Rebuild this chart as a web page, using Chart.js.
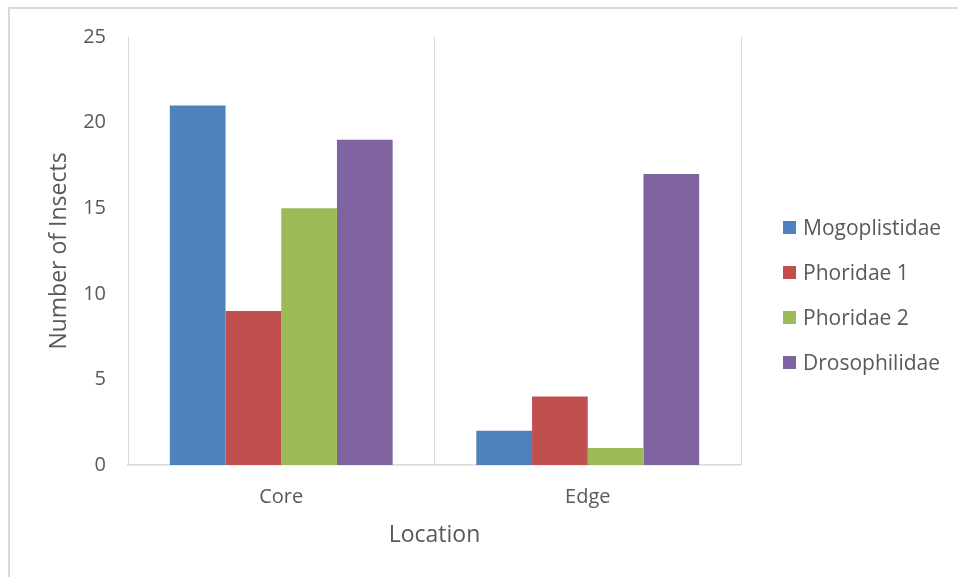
<!DOCTYPE html>
<html>
<head>
<meta charset="utf-8">
<script src="https://cdn.jsdelivr.net/npm/chart.js@4.4.1/dist/chart.umd.min.js"></script>
<style>
  html, body { margin: 0; padding: 0; background: #ffffff; }
  #wrap { position: relative; width: 958px; height: 577px; overflow: hidden; }
  #frame {
    position: absolute; left: 8px; top: 7px; width: 1000px; height: 620px;
    border-left: 2px solid #d9d9d9; border-top: 2px solid #d9d9d9;
  }
  #chart { position: absolute; left: 0; top: 0; }
  #legend {
    position: absolute; left: 783px; top: 0;
    font-family: "Open Sans", sans-serif; font-size: 21px; color: #595959;
  }
  .item { position: absolute; left: 0; height: 28px; display: flex; align-items: center; white-space: nowrap; }
  .swatch { width: 13px; height: 13px; margin-right: 7px; flex: none; }
</style>
</head>
<body>
<div id="wrap">
  <div id="frame"></div>
  <canvas id="chart" width="958" height="577"></canvas>
  <div id="legend"></div>
</div>
<script>
// Insect counts per family at each sampling location
const locations = ["Core", "Edge"];
const families = ["Mogoplistidae", "Phoridae 1", "Phoridae 2", "Drosophilidae"];
const mogoplistidae = [21, 2];
const phoridae1 = [9, 4];
const phoridae2 = [15, 1];
const drosophilidae = [19, 17];
const familyColors = ["#4F81BD", "#C0504D", "#9BBB59", "#8064A2"];

const seriesValues = [mogoplistidae, phoridae1, phoridae2, drosophilidae];
const textColor = "#595959";
const lineColor = "#d9d9d9";
const fontFamily = '"Open Sans", sans-serif';

const datasets = families.map((name, i) => ({
  label: name,
  data: seriesValues[i],
  backgroundColor: familyColors[i],
  borderWidth: 0,
  categoryPercentage: 0.727,
  barPercentage: 1.0
}));

const chart = new Chart(document.getElementById("chart"), {
  type: "bar",
  data: { labels: locations, datasets },
  options: {
    responsive: false,
    animation: false,
    devicePixelRatio: 1,
    layout: { padding: { left: 0, right: 217, top: 37, bottom: 0 } },
    plugins: {
      legend: { display: false },
      tooltip: { enabled: false }
    },
    scales: {
      x: {
        grid: { display: true, offset: true, color: lineColor, lineWidth: 1, drawTicks: false },
        border: { display: true, color: lineColor, width: 1.5 },
        ticks: { color: textColor, font: { family: fontFamily, size: 20 }, padding: 20 },
        title: {
          display: true, text: "Location", color: textColor,
          font: { family: fontFamily, size: 23 }, padding: { top: 0, bottom: 28 }
        },
        afterFit: (scale) => { scale.height = 112; }
      },
      y: {
        min: 0, max: 25,
        grid: { display: false, drawTicks: false },
        border: { display: false },
        ticks: { stepSize: 5, color: textColor, font: { family: fontFamily, size: 20 }, padding: 22 },
        title: {
          display: true, text: "Number of Insects", color: textColor,
          font: { family: fontFamily, size: 23 }, padding: { top: 46, bottom: 0 }
        },
        afterFit: (scale) => { scale.width = 128; }
      }
    }
  }
});

// Legend entries listed beside the plot, one per family
const legend = document.getElementById("legend");
const legendTop = 227, legendStep = 45;
families.forEach((name, i) => {
  const item = document.createElement("div");
  item.className = "item";
  item.style.top = (legendTop + i * legendStep - 14) + "px";
  const sw = document.createElement("span");
  sw.className = "swatch";
  sw.style.background = familyColors[i];
  const label = document.createElement("span");
  label.textContent = name;
  item.appendChild(sw);
  item.appendChild(label);
  legend.appendChild(item);
});
</script>
</body>
</html>
